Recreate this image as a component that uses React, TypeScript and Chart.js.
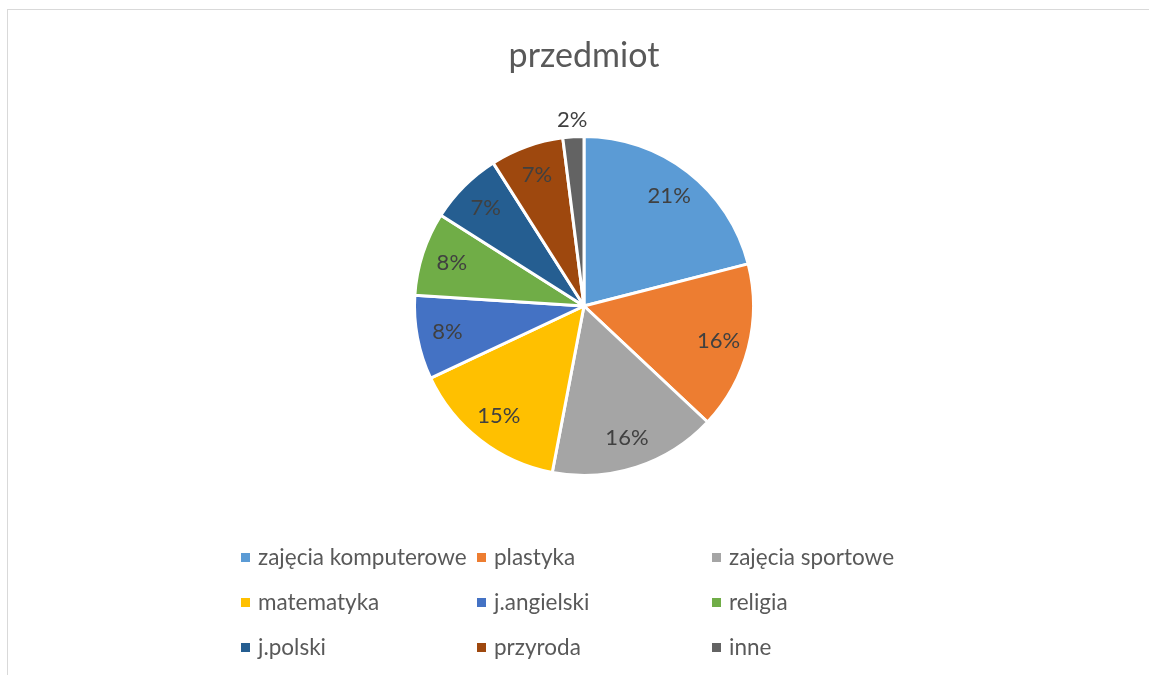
import React, { useEffect, useRef } from "react";
import { Chart, registerables } from "chart.js";

Chart.register(...registerables);

// ---- data ----
const categories: string[] = [
  "zajęcia komputerowe",
  "plastyka",
  "zajęcia sportowe",
  "matematyka",
  "j.angielski",
  "religia",
  "j.polski",
  "przyroda",
  "inne",
];
const shares: number[] = [21, 16, 16, 15, 8, 8, 7, 7, 2];
const sliceColors: string[] = [
  "#5B9BD5",
  "#ED7D31",
  "#A5A5A5",
  "#FFC000",
  "#4472C4",
  "#70AD47",
  "#255E91",
  "#9E480E",
  "#636363",
];
const chartTitle = "przedmiot";

// ---- styling / layout ----
const FONT = "Lato, 'Open Sans', sans-serif";
const legendLayout = { columns: [241, 477, 712], rows: [557.5, 602.5, 647.5], box: 9, gap: 8 };

const pieLabels = {
  id: "pieLabels",
  afterDatasetsDraw(chart: any) {
    const ctx = chart.ctx as CanvasRenderingContext2D;
    const meta = chart.getDatasetMeta(0);
    const data = chart.data.datasets[0].data as number[];
    const total = data.reduce((a, b) => a + b, 0);
    ctx.save();
    ctx.font = `22px ${FONT}`;
    ctx.fillStyle = "#404040";
    ctx.textAlign = "center";
    ctx.textBaseline = "middle";
    meta.data.forEach((arc: any, i: number) => {
      const p = arc.getProps(["x", "y", "startAngle", "endAngle", "outerRadius"], true);
      const mid = (p.startAngle + p.endAngle) / 2;
      const pct = (data[i] / total) * 100;
      const r = pct < 4 ? p.outerRadius + 17 : p.outerRadius * 0.82;
      ctx.fillText(`${Math.round(pct)}%`, p.x + Math.cos(mid) * r, p.y + Math.sin(mid) * r);
    });
    ctx.restore();
  },
};

const gridLegend = {
  id: "gridLegend",
  afterDraw(chart: any) {
    const ctx = chart.ctx as CanvasRenderingContext2D;
    const labels = chart.data.labels as string[];
    const bg = chart.data.datasets[0].backgroundColor as string[];
    const { columns, rows, box, gap } = legendLayout;
    ctx.save();
    ctx.font = `22.5px ${FONT}`;
    ctx.textAlign = "left";
    ctx.textBaseline = "middle";
    labels.forEach((lab, i) => {
      const x = columns[i % columns.length];
      const y = rows[Math.floor(i / columns.length)];
      ctx.fillStyle = bg[i];
      ctx.fillRect(x, y - box / 2, box, box);
      ctx.fillStyle = "#595959";
      ctx.fillText(lab, x + box + gap, y);
    });
    ctx.restore();
  },
};

export default function App() {
  const canvasRef = useRef<HTMLCanvasElement | null>(null);

  useEffect(() => {
    if (!canvasRef.current) return;
    const chart = new Chart(canvasRef.current, {
      type: "pie",
      data: {
        labels: categories,
        datasets: [
          {
            data: shares,
            backgroundColor: sliceColors,
            borderColor: "#ffffff",
            borderWidth: 3,
          },
        ],
      },
      options: {
        responsive: false,
        animation: false,
        devicePixelRatio: 1,
        layout: { padding: { left: 19, top: 0, right: 0, bottom: 198 } },
        plugins: {
          title: {
            display: true,
            text: chartTitle,
            color: "#595959",
            font: { family: FONT, size: 34, weight: "normal" },
            padding: { top: 35.6, bottom: 58.6 },
          },
          legend: { display: false },
          tooltip: { enabled: false },
        },
      },
      plugins: [pieLabels, gridLegend],
    } as any);
    return () => chart.destroy();
  }, []);

  return (
    <div
      style={{
        position: "fixed",
        left: 0,
        top: 0,
        width: 1149,
        height: 675,
        overflow: "hidden",
        background: "#ffffff",
      }}
    >
      <div
        style={{
          position: "absolute",
          left: 7,
          top: 9,
          width: 1300,
          height: 900,
          border: "1px solid #d9d9d9",
        }}
      />
      <canvas
        ref={canvasRef}
        width={1149}
        height={675}
        style={{ position: "absolute", left: 0, top: 0, display: "block" }}
      />
    </div>
  );
}
